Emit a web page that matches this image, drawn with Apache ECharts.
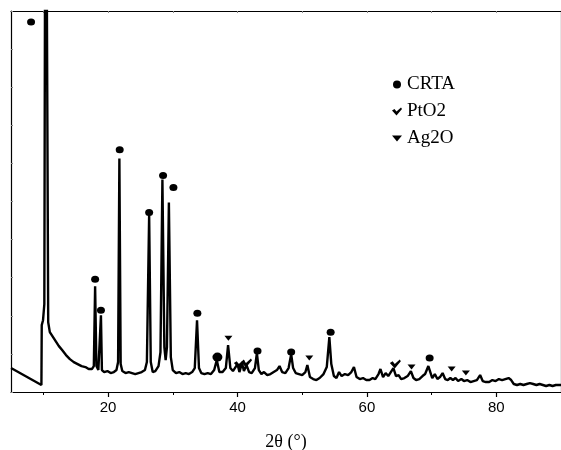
<!DOCTYPE html>
<html><head><meta charset="utf-8">
<script src="https://cdn.jsdelivr.net/npm/echarts@6/dist/echarts.min.js"></script>
<style>html,body{margin:0;padding:0;background:#fff}#c{width:561px;height:450px}</style>
</head><body><div id="c"></div>
<script>
// XRD pattern: [2theta, intensity (arb.)]
const pattern = [
[5.0,24],[9.7,7],[9.75,67],[9.95,72],[10.15,88],[10.35,700],[10.6,700],[10.75,70],[11.0,60],[11.3,57],[11.6,54],[12.0,50],[12.4,46],[12.9,42],[13.5,37],[14.1,33],[14.7,30],[15.3,28],[15.9,26],[16.5,25],[17.0,23],[17.5,23],[17.8,26],[18.0,106],[18.2,26],[18.5,22],[18.75,24],[18.9,77],[19.05,22],[19.4,20],[19.9,21],[20.4,19],[20.9,20],[21.3,22],[21.55,30],[21.75,234],[21.95,28],[22.2,21],[22.7,19],[23.2,20],[23.7,19],[24.2,18],[24.7,19],[25.2,20],[25.7,22],[26.0,30],[26.35,178],[26.6,30],[26.9,20],[27.3,21],[27.8,26],[28.1,40],[28.4,213],[28.7,45],[28.9,32],[29.1,45],[29.4,190],[29.7,35],[30.0,22],[30.5,19],[31.0,20],[31.5,18],[32.0,19],[32.5,18],[33.0,20],[33.4,24],[33.75,72],[34.05,24],[34.4,19],[34.9,18],[35.4,19],[35.9,18],[36.4,22],[36.8,32],[37.2,20],[37.7,20],[38.2,24],[38.55,47],[38.9,24],[39.3,21],[39.7,25],[40.0,28],[40.3,20],[40.7,29],[41.0,21],[41.4,27],[41.8,20],[42.2,19],[42.7,24],[43.0,39],[43.3,22],[43.7,18],[44.1,20],[44.6,17],[45.1,18],[45.6,20],[46.1,22],[46.5,26],[46.9,20],[47.4,19],[47.9,24],[48.3,38],[48.6,24],[49.0,19],[49.5,18],[50.0,17],[50.5,20],[50.8,27],[51.2,15],[51.7,13],[52.2,12],[52.7,14],[53.3,18],[53.8,25],[54.2,55],[54.5,28],[54.9,16],[55.3,14],[55.7,20],[56.1,16],[56.6,18],[57.1,17],[57.6,20],[58.0,25],[58.4,15],[58.9,13],[59.4,14],[59.9,12],[60.4,12],[60.9,14],[61.3,13],[61.8,18],[62.1,23],[62.5,15],[62.9,19],[63.3,16],[63.7,20],[64.1,24],[64.5,16],[64.9,17],[65.3,13],[65.8,14],[66.3,16],[66.8,21],[67.2,14],[67.6,12],[68.1,13],[68.6,16],[69.0,18],[69.5,26],[69.8,20],[70.1,14],[70.5,18],[70.9,13],[71.3,15],[71.7,19],[72.1,13],[72.5,12],[72.9,14],[73.3,12],[73.7,14],[74.1,11],[74.6,13],[75.0,11],[75.5,12],[76.0,10],[76.5,11],[77.0,12],[77.5,17],[77.9,11],[78.4,10],[78.9,10],[79.4,12],[79.9,11],[80.4,13],[80.9,12],[81.4,13],[81.9,14],[82.3,12],[82.7,8],[83.2,7],[83.7,8],[84.2,7],[84.7,8],[85.2,9],[85.7,8],[86.2,7],[86.7,8],[87.2,7],[87.7,6],[88.2,7],[88.7,6],[89.2,7],[90.0,7]
];
const crta = [[8.1,371],[18.0,113],[18.9,82],[21.8,243],[26.35,180],[28.5,217],[30.1,205],[33.8,79],[43.1,41],[48.3,40],[54.4,60],[69.7,34]];
const crtaBig = [[36.9,35]];
const pto2 = [[40.3,28],[41.4,29],[64.4,28]];
const ag2o = [[38.6,54],[51.1,34],[66.9,25],[73.1,23],[75.3,19]];
const xLabels = [20,40,60,80];
const xMinor = [10,30,50,70,90];

const checkPath = 'path://M0,3 L2.5,1.5 L4.5,4 L9,0 L10,1.5 L4.5,8 Z';
const triPath = 'path://M0,0 L10,0 L5,6 Z';
const chart = echarts.init(document.getElementById('c'));
chart.setOption({
  animation:false,
  grid:{left:11,right:0,top:11,bottom:58,containLabel:false,outerBoundsMode:'none'},
  legend:{
    orient:'vertical', left:387, top:70, itemWidth:10, itemHeight:8, itemGap:8,
    textStyle:{fontFamily:'Liberation Serif',fontSize:19,color:'#000'},
    data:[{name:'CRTA',icon:'circle'},{name:'PtO2',icon:checkPath},{name:'Ag2O',icon:triPath}]
  },
  xAxis:[
    {type:'value',min:5,max:90,position:'bottom',
     name:'2θ (°)',nameLocation:'middle',nameGap:41,
     nameTextStyle:{fontFamily:'Liberation Serif',fontSize:18,color:'#000'},
     axisLine:{lineStyle:{color:'#000',width:1.2}},
     axisTick:{show:true,inside:false,length:5,customValues:xLabels,lineStyle:{color:'#000',width:1.2}},
     axisLabel:{customValues:xLabels,fontFamily:'Liberation Sans',fontSize:15,color:'#000',margin:8},
     splitLine:{show:false}},
    {type:'value',min:5,max:90,position:'bottom',
     axisLine:{show:false},
     axisTick:{show:true,inside:false,length:3,customValues:xMinor,lineStyle:{color:'#000',width:1}},
     axisLabel:{show:false},splitLine:{show:false}},
    {type:'value',min:5,max:90,position:'top',
     axisLine:{lineStyle:{color:'#000',width:1.2}},
     axisTick:{show:true,inside:true,length:2,customValues:[10,20,30,40,50,60,70,80,90],lineStyle:{color:'#888',width:1}},
     axisLabel:{show:false},splitLine:{show:false}}
  ],
  yAxis:[
    {type:'value',min:0,max:382,interval:38.2,position:'left',
     axisLine:{show:true,lineStyle:{color:'#000',width:1.2}},
     axisTick:{show:true,inside:true,length:2,lineStyle:{color:'#888',width:1}},
     axisLabel:{show:false},splitLine:{show:false}},
    {type:'value',min:0,max:382,position:'right',
     axisLine:{show:true,lineStyle:{color:'#000',width:1.2}},
     axisTick:{show:false},axisLabel:{show:false},splitLine:{show:false}}
  ],
  series:[
    {name:'pattern',type:'line',data:pattern,showSymbol:false,clip:true,
     lineStyle:{color:'#000',width:2.4},z:2},
    {name:'CRTA',type:'scatter',data:crta,symbol:'circle',symbolSize:[8,7],itemStyle:{color:'#000',opacity:1},z:3},
    {name:'CRTA',type:'scatter',data:crtaBig,symbol:'circle',symbolSize:[10,9],itemStyle:{color:'#000',opacity:1},z:3},
    {name:'PtO2',type:'scatter',data:pto2,symbol:checkPath,symbolSize:[11,9],itemStyle:{color:'#000',opacity:1},z:3},
    {name:'Ag2O',type:'scatter',data:ag2o,symbol:triPath,symbolSize:[8,5],itemStyle:{color:'#000',opacity:1},z:3}
  ]
});
</script></body></html>
